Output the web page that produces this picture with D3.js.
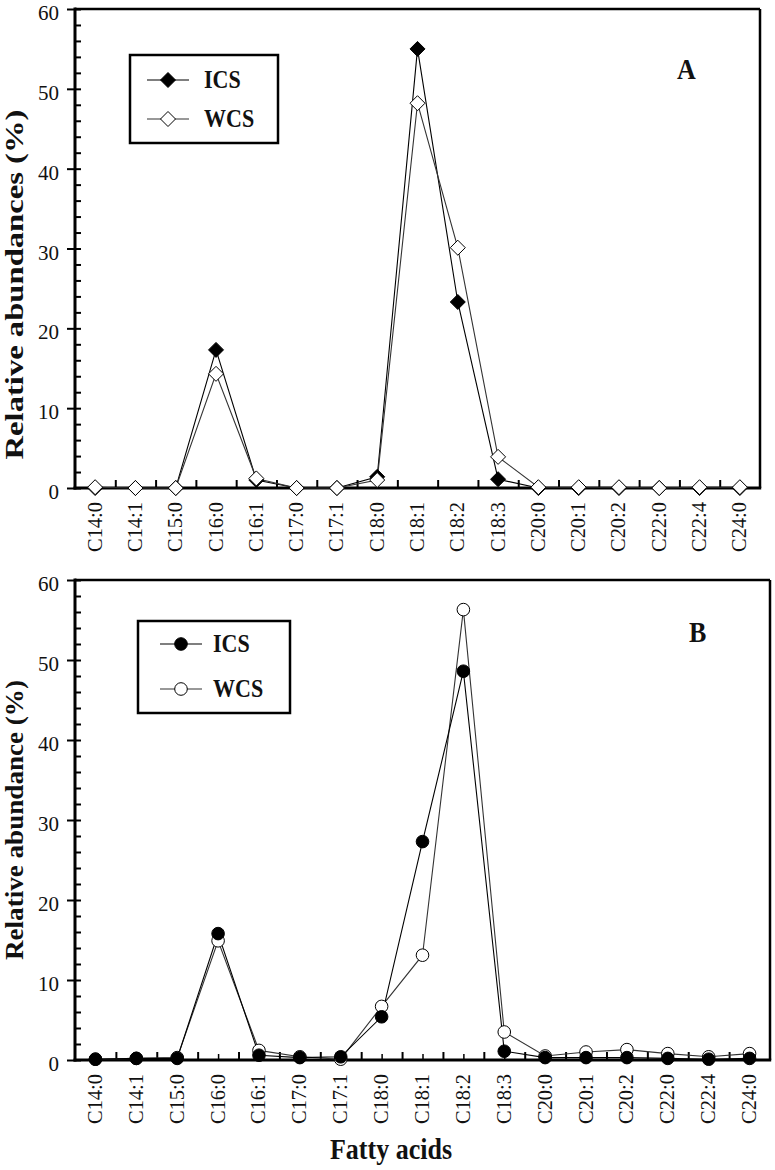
<!DOCTYPE html>
<html>
<head>
<meta charset="utf-8">
<script src="https://cdn.jsdelivr.net/npm/d3@7"></script>
<style>
  html, body { margin: 0; padding: 0; background: #fff; }
  svg { display: block; font-family: "Liberation Serif", "Times New Roman", serif; }
</style>
</head>
<body>
<svg id="chart" width="775" height="1170"></svg>
<script>
// fatty acid categories (same for both panels)
const acids = ["C14:0", "C14:1", "C15:0", "C16:0", "C16:1", "C17:0", "C17:1", "C18:0",
  "C18:1", "C18:2", "C18:3", "C20:0", "C20:1", "C20:2", "C22:0", "C22:4", "C24:0"];

// panel A values (%)
const icsA = [0, 0, 0, 17.3, 1.0, 0, 0, 1.4, 55.0, 23.3, 1.1, 0, 0, 0, 0, 0, 0];
const wcsA = [0.1, 0, 0, 14.3, 1.2, 0, 0, 1.0, 48.2, 30.1, 3.9, 0.1, 0.1, 0.1, 0, 0.1, 0.1];

// panel B values (%)
const icsB = [0.1, 0.2, 0.2, 15.8, 0.6, 0.3, 0.4, 5.4, 27.3, 48.6, 1.1, 0.3, 0.3, 0.3, 0.2, 0.1, 0.2];
const wcsB = [0.1, 0.2, 0.3, 14.9, 1.2, 0.4, 0.1, 6.7, 13.1, 56.3, 3.5, 0.5, 1.0, 1.3, 0.8, 0.4, 0.8];

const yMajor = [0, 10, 20, 30, 40, 50, 60];
const seriesNames = ["ICS", "WCS"];

const svg = d3.select("#chart");
const STRETCH = 1.13; // the source figure is a bit taller than wide

function drawPanel(cfg) {
  const g = svg.append("g");
  const x = d3.scaleBand().domain(acids).range([cfg.left, cfg.right]);
  const xb = d3.scaleLinear().domain([0, acids.length]).range([cfg.left, cfg.right]);
  const y = d3.scaleLinear().domain([0, 60]).range([cfg.bottom, cfg.top]);
  const cx = d => x(d) + x.bandwidth() / 2;

  // y ticks: major outward + all ticks inward
  const yOut = g.append("g")
    .attr("transform", `translate(${cfg.left},0)`)
    .call(d3.axisLeft(y).tickValues(yMajor).tickSize(8).tickPadding(8).tickFormat(d3.format("d")));
  yOut.select(".domain").remove();
  yOut.selectAll("line").attr("stroke-width", 2);
  yOut.selectAll("text")
    .attr("font-size", 21)
    .attr("font-family", "Liberation Serif")
    .attr("fill", "#111")
    .attr("dy", "0.5em");

  const yIn = g.append("g")
    .attr("transform", `translate(${cfg.left},0)`)
    .call(d3.axisRight(y).tickValues(d3.range(0, 61, 2)).tickSize(6).tickFormat(""));
  yIn.select(".domain").remove();
  yIn.selectAll("line").attr("stroke-width", 2);

  // x ticks at category boundaries (inward)
  const xIn = g.append("g")
    .attr("transform", `translate(0,${cfg.bottom})`)
    .call(d3.axisTop(xb).tickValues(d3.range(1, acids.length)).tickSize(8).tickFormat(""));
  xIn.select(".domain").remove();
  xIn.selectAll("line").attr("stroke-width", 2);

  if (cfg.centerTicks) {
    const xc = g.append("g")
      .attr("transform", `translate(0,${cfg.bottom})`)
      .call(d3.axisTop(xb).tickValues(d3.range(0.5, acids.length, 1)).tickSize(6).tickFormat(""));
    xc.select(".domain").remove();
    xc.selectAll("line").attr("stroke-width", 1.5);
  }

  // x labels, rotated
  g.selectAll(".xlab").data(acids).join("text")
    .attr("class", "xlab")
    .attr("transform", d => `translate(${cx(d) + 6.5},${cfg.bottom + 14}) rotate(-90)`)
    .attr("text-anchor", "end")
    .attr("font-size", 22)
    .attr("textLength", 50)
    .attr("lengthAdjust", "spacingAndGlyphs")
    .attr("fill", "#111")
    .text(d => d);

  // frame
  g.append("line").attr("x1", cfg.left).attr("x2", cfg.right).attr("y1", cfg.top).attr("y2", cfg.top)
    .attr("stroke", "#000").attr("stroke-width", 2.5);
  g.append("line").attr("x1", cfg.right).attr("x2", cfg.right).attr("y1", cfg.top).attr("y2", cfg.bottom)
    .attr("stroke", "#000").attr("stroke-width", 2.5);
  g.append("line").attr("x1", cfg.left).attr("x2", cfg.left).attr("y1", cfg.top - 1.5).attr("y2", cfg.bottom + 1.5)
    .attr("stroke", "#000").attr("stroke-width", 3);
  g.append("line").attr("x1", cfg.left - 1.5).attr("x2", cfg.right + 1.2).attr("y1", cfg.bottom).attr("y2", cfg.bottom)
    .attr("stroke", "#000").attr("stroke-width", 3);

  // series
  const line = d3.line().x((v, i) => cx(acids[i])).y(v => y(v));
  const series = [
    {name: "ICS", values: cfg.ics, fill: "#000", stroke: "#000"},
    {name: "WCS", values: cfg.wcs, fill: "#fff", stroke: "#333"}
  ];
  const order = cfg.icsOnTop ? [series[1], series[0]] : [series[0], series[1]];

  order.forEach(s => {
    g.append("path")
      .datum(s.values)
      .attr("d", line)
      .attr("fill", "none")
      .attr("stroke", s.stroke)
      .attr("stroke-width", 1.1);
  });
  order.forEach(s => {
    drawMarkers(g, s.values.map((v, i) => [cx(acids[i]), y(v)]), cfg.shape, s.fill);
  });

  // legend
  const L = cfg.legend;
  g.append("rect")
    .attr("x", L.x).attr("y", L.y).attr("width", L.w).attr("height", L.h)
    .attr("fill", "#fff").attr("stroke", "#000").attr("stroke-width", 2.5);
  seriesNames.forEach((name, i) => {
    const s = series[i];
    const ly = L.y + L.row0 + i * L.rowGap;
    g.append("line")
      .attr("x1", L.x + L.lineX0).attr("x2", L.x + L.lineX1)
      .attr("y1", ly).attr("y2", ly)
      .attr("stroke", s.stroke).attr("stroke-width", 1.1);
    drawMarkers(g, [[L.x + (L.lineX0 + L.lineX1) / 2, ly]], cfg.shape, s.fill);
    g.append("text")
      .attr("transform", `translate(${L.x + L.textX},${ly + 8}) scale(1,${STRETCH})`)
      .attr("font-size", 22).attr("font-weight", "bold").attr("fill", "#111")
      .text(name);
  });

  // panel letter
  g.append("text")
    .attr("transform", `translate(${cfg.letterX},${cfg.letterY}) scale(1,${STRETCH})`)
    .attr("font-size", 26).attr("font-weight", "bold").attr("fill", "#111")
    .text(cfg.letter);

  // y title
  const yt = g.append("text")
    .attr("transform", `translate(23,${(cfg.top + cfg.bottom) / 2 + cfg.titleShift}) rotate(-90)`)
    .attr("text-anchor", "middle")
    .attr("font-size", 26).attr("font-weight", "bold").attr("fill", "#111")
    .text(cfg.ytitle);
  if (cfg.titleLen) yt.attr("textLength", cfg.titleLen).attr("lengthAdjust", "spacingAndGlyphs");
}

function drawMarkers(g, pts, shape, fill) {
  if (shape === "diamond") {
    g.append("g").selectAll("path").data(pts).join("path")
      .attr("d", p => `M${p[0]},${p[1] - 7.5}L${p[0] + 7.5},${p[1]}L${p[0]},${p[1] + 7.5}L${p[0] - 7.5},${p[1]}Z`)
      .attr("fill", fill).attr("stroke", "#000").attr("stroke-width", 1);
  } else {
    g.append("g").selectAll("circle").data(pts).join("circle")
      .attr("cx", p => p[0]).attr("cy", p => p[1]).attr("r", 6.3)
      .attr("fill", fill).attr("stroke", "#000").attr("stroke-width", 1);
  }
}

drawPanel({
  left: 75, right: 760, top: 9, bottom: 488,
  ics: icsA, wcs: wcsA, shape: "diamond", icsOnTop: false, centerTicks: false,
  legend: {x: 130, y: 55, w: 148, h: 88, row0: 25, rowGap: 39, lineX0: 17, lineX1: 59, textX: 74},
  letter: "A", letterX: 677, letterY: 79,
  ytitle: "Relative abundances (%)", titleShift: 36, titleLen: 350
});

drawPanel({
  left: 75, right: 770, top: 580, bottom: 1060,
  ics: icsB, wcs: wcsB, shape: "circle", icsOnTop: true, centerTicks: true,
  legend: {x: 138, y: 621, w: 152, h: 92, row0: 23, rowGap: 45, lineX0: 22, lineX1: 64, textX: 75},
  letter: "B", letterX: 689, letterY: 642,
  ytitle: "Relative abundance (%)", titleShift: 0, titleLen: 280
});

// shared x title
svg.append("text")
  .attr("transform", `translate(391,1159) scale(1,${STRETCH})`)
  .attr("text-anchor", "middle")
  .attr("font-size", 26).attr("font-weight", "bold").attr("fill", "#111")
  .text("Fatty acids");
</script>
</body>
</html>
